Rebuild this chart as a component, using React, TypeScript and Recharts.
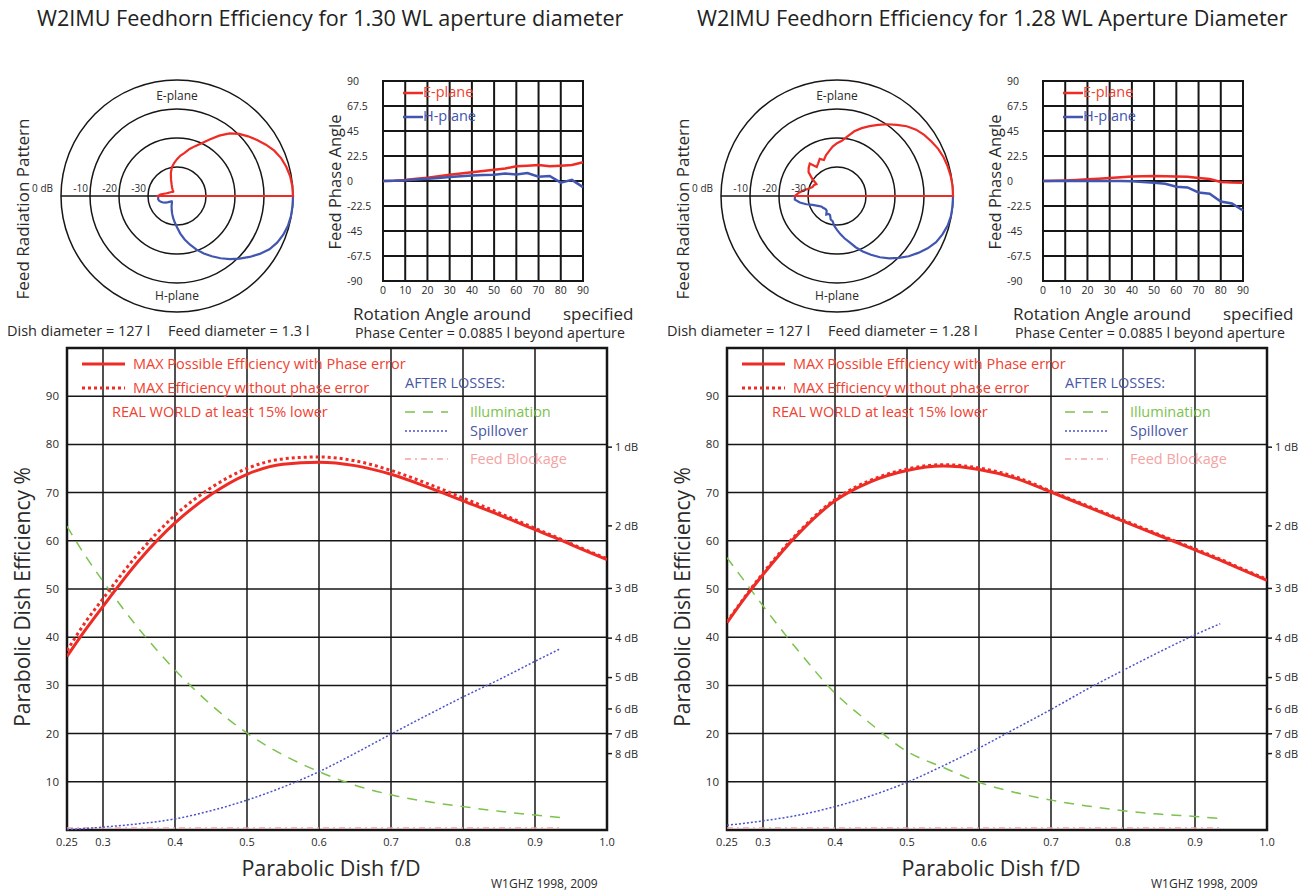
import React from 'react';
import {
  LineChart, Line, XAxis, YAxis, CartesianGrid, ReferenceArea,
  RadarChart, Radar, PolarGrid, PolarAngleAxis, PolarRadiusAxis,
} from 'recharts';

const FONT = "'Open Sans', 'DejaVu Sans', sans-serif";
const RED = '#ee2b24';
const RED_TXT = '#ef4130';
const BLUE = '#4156b0';
const GREEN = '#7cc24e';
const SPILL = '#4b52c9';
const PINK = '#f4a3a3';
const INK = '#161616';
const GREY = '#2a2a2a';

// ---------- Feed radiation pattern (polar, dB vs angle off boresight) ----------
const polarAngles = [0, 5, 10, 15, 20, 25, 30, 35, 40, 45, 50, 55, 60, 65, 70, 75, 80, 85, 90,
  95, 100, 105, 110, 115, 120, 125, 130, 135, 140, 145, 150, 155, 160, 165, 170, 175, 180];
const leftEPattern = [0, -0.1, -0.4, -1.0, -1.8, -3.0, -4.6, -6.3, -8.0, -9.7, -11.8, -14.6, -17.5, -19.9,
  -21.7, -23.2, -24.9, -26.0, -27.3, -28.6, -29.9, -31.8, -34.0, -35.6, -36.6, -37.4, -38.0, -38.0,
  -37.8, -37.6, -37.4, -37.1, -36.8, -36.3, -35.5, -34.2, -33.5];
const leftHPattern = [0, 0, -0.1, -0.4, -1.0, -1.9, -3.2, -5.2, -7.3, -9.5, -11.6, -13.8, -16.0, -18.1,
  -20.3, -22.6, -24.8, -27.0, -29.2, -30.9, -32.3, -33.6, -34.7, -35.6, -36.3, -36.9, -37.3, -37.4,
  -37.0, -36.3, -35.5, -34.7, -34.1, -33.6, -33.4, -33.5, -33.6];
const rightEPattern = [0, 0, -0.2, -0.5, -0.9, -1.5, -2.4, -3.3, -4.4, -6.0, -8.0, -9.8, -11.7, -13.4,
  -15.1, -16.9, -19.1, -20.9, -21.8, -22.9, -24.3, -25.4, -26.8, -25.9, -27.0, -27.8, -25.4, -26.2,
  -27.2, -29.5, -31.8, -31.2, -31.0, -30.0, -28.4, -26.8, -25.5];
const rightHPattern = [0, 0, -0.1, -0.5, -1.3, -2.3, -3.9, -5.8, -7.7, -9.8, -11.9, -14.2, -16.6, -18.9,
  -21.2, -23.5, -25.2, -26.8, -28.3, -29.6, -31.2, -31.6, -33.0, -33.2, -32.6, -33.8, -34.0, -33.9,
  -33.7, -33.6, -33.0, -32.2, -31.0, -29.0, -27.0, -25.4, -25.5];
const radiusTicks = [-30, -20, -10, 0];

// ---------- Feed phase angle ----------
const phaseAngles = [0, 5, 10, 15, 20, 25, 30, 35, 40, 45, 50, 55, 60, 65, 70, 75, 80, 85, 90];
const leftEPhase = [0, 0.3, 1.0, 2.0, 3.0, 4.2, 5.6, 6.8, 7.8, 9.0, 10.2, 11.2, 13.2, 13.8, 14.4, 13.2, 13.8, 14.4, 16.8];
const leftHPhase = [0, 0.2, 0.6, 1.3, 2.0, 2.8, 3.5, 4.3, 5.0, 5.3, 5.7, 6.8, 5.8, 7.2, 3.8, 4.5, -1.5, 1.0, -5.5];
const rightEPhase = [0, 0.2, 0.5, 1.0, 1.5, 2.0, 2.6, 3.3, 4.0, 4.3, 4.6, 4.3, 4.0, 3.8, 2.8, 1.8, -0.8, -1.3, -1.5];
const rightHPhase = [0, 0, 0, 0, 0, 0, 0, 0, -0.2, -1.0, -1.6, -2.5, -5.2, -5.8, -10.3, -11.5, -18.5, -20.2, -26.5];
const phaseXTicks = [0, 10, 20, 30, 40, 50, 60, 70, 80, 90];
const phaseYTicks = [-90, -67.5, -45, -22.5, 0, 22.5, 45, 67.5, 90];

// ---------- Dish efficiency vs f/D ----------
const fdValues = [0.25, 0.275, 0.3, 0.35, 0.4, 0.45, 0.5, 0.55, 0.6, 0.65, 0.7, 0.75, 0.8, 0.85, 0.9, 0.935, 0.95, 1.0];
const leftWithPhase = [36.0, 41.4, 46.4, 55.9, 63.7, 69.6, 73.8, 75.9, 76.3, 75.6, 73.8, 71.2, 68.3, 65.4, 62.3, 60.2, 59.2, 56.1];
const leftNoPhase = [37.2, 43.0, 48.0, 57.5, 65.3, 71.0, 75.0, 77.0, 77.4, 76.6, 74.6, 71.9, 68.9, 65.8, 62.6, 60.4, 59.4, 56.3];
const leftIllum = [63.0, 57.0, 51.6, 41.7, 33.2, 26.0, 20.1, 15.6, 12.1, 9.3, 7.3, 5.9, 4.85, 3.9, 3.1, 2.6, null, null];
const leftSpill = [0.1, 0.3, 0.6, 1.3, 2.3, 4.0, 6.2, 8.9, 12.1, 15.9, 19.9, 23.8, 27.6, 31.2, 35.0, 37.6, null, null];
const leftBlock = [0.4, 0.4, 0.4, 0.4, 0.4, 0.4, 0.4, 0.4, 0.4, 0.4, 0.4, 0.4, 0.4, 0.4, 0.4, 0.4, null, null];
const rightWithPhase = [43.0, 48.2, 53.0, 61.6, 68.3, 72.3, 74.6, 75.5, 74.8, 73.0, 70.1, 67.1, 64.1, 61.1, 58.1, 56.0, 55.0, 51.8];
const rightNoPhase = [43.2, 48.4, 53.3, 61.9, 68.6, 72.6, 74.9, 75.8, 75.1, 73.3, 70.3, 67.3, 64.3, 61.3, 58.3, 56.2, 55.2, 52.0];
const rightIllum = [56.5, 51.5, 46.5, 37.0, 28.4, 22.0, 16.3, 13.0, 9.9, 7.8, 6.2, 5.0, 4.0, 3.3, 2.8, 2.4, null, null];
const rightSpill = [1.0, 1.4, 1.9, 3.1, 4.85, 7.1, 9.9, 13.3, 17.0, 21.0, 25.0, 29.2, 33.1, 36.9, 40.5, 42.8, null, null];
const rightBlock = [0.4, 0.4, 0.4, 0.4, 0.4, 0.4, 0.4, 0.4, 0.4, 0.4, 0.4, 0.4, 0.4, 0.4, 0.4, 0.4, null, null];
const fdTicks = [0.25, 0.3, 0.4, 0.5, 0.6, 0.7, 0.8, 0.9, 1.0];
const pctTicks = [0, 10, 20, 30, 40, 50, 60, 70, 80, 90, 100];
const dbLossTicks = [1, 2, 3, 4, 5, 6, 7, 8];

// ---------- tables built from the arrays ----------
function buildPolar(e: number[], h: number[]) {
  const rows: any[] = polarAngles.map((a, i) => ({ angle: a, e: e[i], h: null }));
  rows[rows.length - 1].h = h[h.length - 1];
  for (let i = polarAngles.length - 2; i >= 0; i--) {
    rows.push({ angle: 360 - polarAngles[i], e: null, h: h[i] });
  }
  rows.push({ angle: 360, e: null, h: null });
  return rows;
}
const buildPhase = (e: number[], h: number[]) => phaseAngles.map((a, i) => ({ a, e: e[i], h: h[i] }));
const buildMain = (e1: any[], e2: any[], ill: any[], sp: any[], bl: any[]) =>
  fdValues.map((fd, i) => ({ fd, e1: e1[i], e2: e2[i], ill: ill[i], spill: sp[i], blk: bl[i] }));

const polarLeft = buildPolar(leftEPattern, leftHPattern);
const polarRight = buildPolar(rightEPattern, rightHPattern);
const phaseLeft = buildPhase(leftEPhase, leftHPhase);
const phaseRight = buildPhase(rightEPhase, rightHPhase);
const mainLeft = buildMain(leftWithPhase, leftNoPhase, leftIllum, leftSpill, leftBlock);
const mainRight = buildMain(rightWithPhase, rightNoPhase, rightIllum, rightSpill, rightBlock);
const dbTickValues = dbLossTicks.map((d) => 100 * Math.pow(10, -d / 10));

// ---------- helpers ----------
type TxtProps = { x: number; y: number; size: number; color?: string; anchor?: 'start' | 'middle'; rotate?: boolean; children: React.ReactNode };
const Txt = ({ x, y, size, color = GREY, anchor = 'start', rotate = false, children }: TxtProps) => (
  <div
    style={{
      position: 'absolute', left: x, top: y, fontSize: size, color, whiteSpace: 'nowrap', lineHeight: 1,
      transform: `translate(${anchor === 'middle' ? '-50%' : '0'}, -50%)${rotate ? ' rotate(-90deg)' : ''}`,
    }}
  >
    {children}
  </div>
);

const Sample = ({ x, y, w, color, width, dash }: { x: number; y: number; w: number; color: string; width: number; dash?: string }) => (
  <svg style={{ position: 'absolute', left: x, top: y - 4 }} width={w} height={8}>
    <line x1={0} y1={4} x2={w} y2={4} stroke={color} strokeWidth={width} strokeDasharray={dash} />
  </svg>
);

const RadTick = (props: any) => {
  const { x, y, payload } = props;
  const v = payload.value;
  return (
    <text x={x - (v === 0 ? 8 : 2)} y={y - 4} textAnchor="end" fontSize={10} fill={GREY}>
      {v === 0 ? '0 dB' : String(v)}
    </text>
  );
};

const PhaseYTick = (props: any) => {
  const { x, y, payload } = props;
  return (
    <text x={x - 28} y={y} dy={4} textAnchor="start" fontSize={10.5} fill={GREY}>
      {payload.value}
    </text>
  );
};

const fmtFd = (v: number) => (v === 0.25 ? '0.25' : v.toFixed(1));
const fmtPct = (v: number) => (v === 0 || v === 100 ? '' : String(v));
const fmtDb = (v: number) => `${Math.round(-10 * Math.log10(v / 100))} dB`;

// ---------- panels ----------
function PolarPanel({ x0, data }: { x0: number; data: any[] }) {
  return (
    <div style={{ position: 'absolute', left: x0, top: 60 }}>
      <RadarChart width={320} height={272} data={data} cx={177} cy={136} outerRadius={116} startAngle={0} endAngle={360}>
        <PolarGrid gridType="circle" polarAngles={[0, 180]} stroke={INK} strokeWidth={1.5} />
        <PolarAngleAxis dataKey="angle" type="number" domain={[0, 360]} tick={false} axisLine={false} tickLine={false} />
        <PolarRadiusAxis angle={180} type="number" domain={[-40, 0]} ticks={radiusTicks} axisLine={false} tickLine={false} tick={<RadTick />} />
        <Radar dataKey="h" stroke={BLUE} strokeWidth={2.2} fill="none" dot={false} isAnimationActive={false} />
        <Radar dataKey="e" stroke={RED} strokeWidth={2.2} fill="none" dot={false} isAnimationActive={false} />
      </RadarChart>
    </div>
  );
}

function PhasePanel({ x0, data }: { x0: number; data: any[] }) {
  return (
    <div style={{ position: 'absolute', left: x0 + 330, top: 73 }}>
      <LineChart width={260} height={230} data={data} margin={{ top: 8, right: 7, bottom: 0, left: 0 }}>
        <CartesianGrid stroke={INK} strokeWidth={2} />
        <XAxis dataKey="a" type="number" domain={[0, 90]} ticks={phaseXTicks} interval={0} height={22}
          axisLine={false} tickLine={false} tickSize={0} tickMargin={6} tick={{ fontSize: 10.5, fill: GREY }} />
        <YAxis type="number" domain={[-90, 90]} ticks={phaseYTicks} interval={0} width={53}
          axisLine={false} tickLine={false} tick={<PhaseYTick />} />
        <ReferenceArea x1={0} x2={90} y1={-90} y2={90} fill="none" stroke={INK} strokeWidth={2} />
        <Line dataKey="e" stroke={RED} strokeWidth={2.5} dot={false} isAnimationActive={false} />
        <Line dataKey="h" stroke={BLUE} strokeWidth={2.5} dot={false} isAnimationActive={false} />
      </LineChart>
    </div>
  );
}

function MainPanel({ x0, data }: { x0: number; data: any[] }) {
  return (
    <div style={{ position: 'absolute', left: x0, top: 340 }}>
      <LineChart width={660} height={554} data={data} margin={{ top: 8, right: 0, bottom: 0, left: 0 }}>
        <CartesianGrid yAxisId="pct" stroke={INK} strokeWidth={1.5} />
        <XAxis dataKey="fd" type="number" domain={[0.25, 1]} ticks={fdTicks} tickFormatter={fmtFd} interval={0}
          height={64} axisLine={false} tickLine={false} tick={{ fontSize: 11, fill: GREY }} allowDataOverflow />
        <YAxis yAxisId="pct" type="number" domain={[0, 100]} ticks={pctTicks} tickFormatter={fmtPct} interval={0}
          width={67} axisLine={false} tickLine={false} tick={{ fontSize: 11.5, fill: GREY }} />
        <YAxis yAxisId="db" orientation="right" type="number" domain={[0, 100]} ticks={dbTickValues} tickFormatter={fmtDb}
          interval={0} width={53} axisLine={false} tickLine={{ stroke: INK, strokeWidth: 1.5 }} tickSize={5} tickMargin={3}
          tick={{ fontSize: 11, fill: GREY }} allowDataOverflow />
        <ReferenceArea yAxisId="pct" x1={0.25} x2={1} y1={0} y2={100} fill="none" stroke={INK} strokeWidth={2.5} />
        {/* same efficiency series carried on the dB scale so that axis is rendered; drawn without stroke */}
        <Line yAxisId="db" dataKey="e1" stroke="none" dot={false} activeDot={false} isAnimationActive={false} legendType="none" />
        <Line yAxisId="pct" dataKey="blk" stroke={PINK} strokeWidth={1.5} strokeDasharray="6 4 2 4" dot={false} isAnimationActive={false} />
        <Line yAxisId="pct" type="monotone" dataKey="ill" stroke={GREEN} strokeWidth={1.5} strokeDasharray="10 8" dot={false} isAnimationActive={false} />
        <Line yAxisId="pct" type="monotone" dataKey="spill" stroke={SPILL} strokeWidth={1.5} strokeDasharray="2 2" dot={false} isAnimationActive={false} />
        <Line yAxisId="pct" type="monotone" dataKey="e2" stroke={RED} strokeWidth={3} strokeDasharray="3 3" dot={false} isAnimationActive={false} />
        <Line yAxisId="pct" type="monotone" dataKey="e1" stroke={RED} strokeWidth={3} dot={false} isAnimationActive={false} />
      </LineChart>
    </div>
  );
}

function Texts({ dx, title, feed }: { dx: number; title: string; feed: string }) {
  const LG = 14.5;
  return (
    <>
      <Txt x={37 + dx} y={18} size={21.6} color="#222">{title}</Txt>
      <Txt x={22 + dx} y={209} size={17} anchor="middle" rotate>Feed Radiation Pattern</Txt>
      <Txt x={177 + dx} y={96} size={12} anchor="middle">E-plane</Txt>
      <Txt x={177 + dx} y={296} size={12} anchor="middle">H-plane</Txt>
      <Txt x={7 + dx} y={331} size={14.5}>Dish diameter = 127 l</Txt>
      <Txt x={168 + dx} y={331} size={14.5}>{feed}</Txt>
      <Txt x={335 + dx} y={182} size={16.5} anchor="middle" rotate>Feed Phase Angle</Txt>
      <Txt x={353 + dx} y={313} size={17}>Rotation Angle around</Txt>
      <Txt x={563 + dx} y={313} size={17}>specified</Txt>
      <Txt x={355 + dx} y={333} size={14.2}>Phase Center = 0.0885 l beyond aperture</Txt>
      <Sample x={403 + dx} y={93} w={20} color={RED} width={2.5} />
      <Txt x={423 + dx} y={92} size={14.5} color={RED_TXT}>E-plane</Txt>
      <Sample x={403 + dx} y={117} w={20} color={BLUE} width={2.5} />
      <Txt x={423 + dx} y={116} size={14.5} color={BLUE}>H-plane</Txt>

      <Sample x={82 + dx} y={364} w={43} color={RED} width={3} />
      <Txt x={133 + dx} y={364} size={LG} color={RED_TXT}>MAX Possible Efficiency with Phase error</Txt>
      <Sample x={82 + dx} y={388} w={43} color={RED} width={3} dash="3 3" />
      <Txt x={133 + dx} y={388} size={LG} color={RED_TXT}>MAX Efficiency without phase error</Txt>
      <Txt x={112 + dx} y={412} size={LG} color={RED_TXT}>REAL WORLD at least 15% lower</Txt>
      <Txt x={405 + dx} y={383} size={LG} color="#4a56a6">AFTER LOSSES:</Txt>
      <Sample x={405 + dx} y={412} w={43} color={GREEN} width={1.5} dash="10 8" />
      <Txt x={470 + dx} y={412} size={LG} color={GREEN}>Illumination</Txt>
      <Sample x={405 + dx} y={431} w={43} color={SPILL} width={1.5} dash="2 2" />
      <Txt x={470 + dx} y={431} size={LG} color="#4a56a6">Spillover</Txt>
      <Sample x={405 + dx} y={459} w={43} color={PINK} width={1.5} dash="6 4 2 4" />
      <Txt x={470 + dx} y={459} size={LG} color={PINK}>Feed Blockage</Txt>

      <Txt x={22 + dx} y={597} size={21} anchor="middle" rotate>Parabolic Dish Efficiency %</Txt>
      <Txt x={331 + dx} y={868} size={21.5} anchor="middle">Parabolic Dish f/D</Txt>
      <Txt x={491 + dx} y={884} size={12}>W1GHZ 1998, 2009</Txt>
    </>
  );
}

export default function App() {
  return (
    <div style={{ position: 'absolute', left: 0, top: 0, width: 1305, height: 894, background: '#fff', fontFamily: FONT, overflow: 'hidden' }}>
      <PolarPanel x0={0} data={polarLeft} />
      <PolarPanel x0={660} data={polarRight} />
      <PhasePanel x0={0} data={phaseLeft} />
      <PhasePanel x0={660} data={phaseRight} />
      <MainPanel x0={0} data={mainLeft} />
      <MainPanel x0={660} data={mainRight} />
      <Texts dx={0} title="W2IMU Feedhorn Efficiency for 1.30 WL aperture diameter" feed="Feed diameter = 1.3 l" />
      <Texts dx={660} title="W2IMU Feedhorn Efficiency for 1.28 WL Aperture Diameter" feed="Feed diameter = 1.28 l" />
    </div>
  );
}
